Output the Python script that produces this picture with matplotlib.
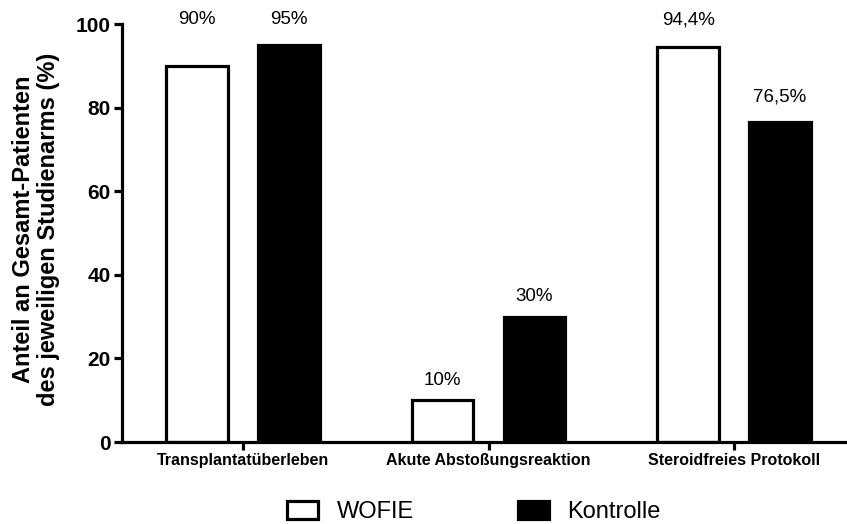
import numpy as np
from matplotlib import pyplot as plt
from matplotlib.patches import Patch

gruppen = ["Transplantatüberleben", "Akute Abstoßungsreaktion", "Steroidfreies Protokoll"]
wofie = [90, 10, 94.4]
kontrolle = [95, 30, 76.5]
wofie_txt = ["90%", "10%", "94,4%"]
kontrolle_txt = ["95%", "30%", "76,5%"]

# Hoehe der Beschriftungen ueber den Balken
wofie_txt_y = [101, 14.8, 101]
kontrolle_txt_y = [101, 34.7, 82.5]

plt.rcParams['font.family'] = ['Liberation Sans', 'DejaVu Sans']

fig = plt.figure(figsize=(8.47, 5.24), dpi=100)
ax = fig.add_axes([122/847, 82/524, 1 - 122/847, 418/524])

x = np.arange(len(gruppen))
breite = 0.25
abstand = 0.187
ax.bar(x - abstand, wofie, breite, color='white', edgecolor='black', linewidth=2.3)
ax.bar(x + abstand, kontrolle, breite, color='black', edgecolor='black', linewidth=2.3)

for i in range(len(gruppen)):
    ax.text(x[i] - abstand, wofie_txt_y[i], wofie_txt[i], ha='center', va='center', fontsize=13.5)
    ax.text(x[i] + abstand, kontrolle_txt_y[i], kontrolle_txt[i], ha='center', va='center', fontsize=13.5)

ax.set_xlim(-0.493, 2.46)
ax.set_ylim(0, 100)
ax.set_yticks([0, 20, 40, 60, 80, 100])
ax.set_xticks(x)
ax.set_xticklabels(gruppen, fontsize=11.5, fontweight='bold')
for lab in ax.get_yticklabels():
    lab.set_fontsize(15)
    lab.set_fontweight('bold')

for s in ['top', 'right']:
    ax.spines[s].set_visible(False)
for s in ['left', 'bottom']:
    ax.spines[s].set_linewidth(2.3)
ax.tick_params(axis='both', width=2.3, length=6, pad=2)

fig.text(36/847, 1 - 229/524, "Anteil an Gesamt-Patienten\ndes jeweiligen Studienarms (%)",
         rotation=90, ha='center', va='center', fontsize=17, fontweight='bold', linespacing=1.15)

handles = [Patch(facecolor='white', edgecolor='black', linewidth=2.3, label='WOFIE'),
           Patch(facecolor='black', edgecolor='black', linewidth=2.3, label='Kontrolle')]
fig.legend(handles=handles, loc='center', bbox_to_anchor=(474/847, 1 - 512/524), ncol=2,
           frameon=False, prop={'size': 17}, handlelength=1.3, handleheight=0.8,
           columnspacing=4.4, handletextpad=0.8)

fig.savefig("out.png", dpi=100)
